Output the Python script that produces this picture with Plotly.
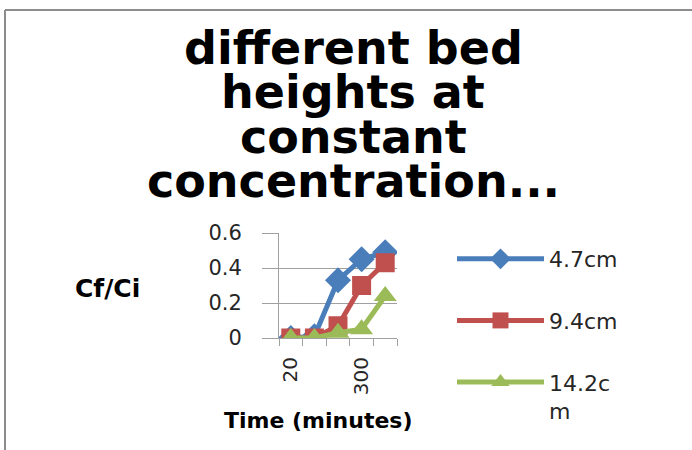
import plotly.graph_objects as go

# Sampling times (minutes) shown on the category axis
times = ["20", "100", "200", "300", "400"]

# Cf/Ci breakthrough ratios for each bed height
bed_4_7 = [0.0, 0.01, 0.33, 0.45, 0.49]
bed_9_4 = [0.0, 0.0, 0.07, 0.30, 0.43]
bed_14_2 = [0.0, 0.0, 0.03, 0.05, 0.24]

series_names = ["4.7cm", "9.4cm", "14.2c<br>m"]
series_colors = ["#4A7EBB", "#C0504D", "#9BBB59"]
series_symbols = ["diamond", "square", "triangle-up"]
series_sizes = [20, 19, 20]

title_lines = ["different bed", "heights at", "constant", "concentration..."]

W, H = 692, 450
PL, PR, PT, PB = 279, 397, 233, 338  # plot area edges in pixels
FONT = "DejaVu Sans"


def px(x):
    # pixel column -> paper fraction (paper spans the plot area)
    return (x - PL) / (PR - PL)


def py(y):
    # pixel row -> paper fraction
    return (PB - y) / (PB - PT)


fig = go.Figure()
for i, vals in enumerate([bed_4_7, bed_9_4, bed_14_2]):
    fig.add_trace(go.Scatter(
        x=times, y=vals, name=series_names[i],
        mode="lines+markers",
        line=dict(color=series_colors[i], width=5),
        marker=dict(symbol=series_symbols[i], size=series_sizes[i],
                    color=series_colors[i]),
        legendgroup=f"g{i}",
    ))

annotations = []
title_centers = [48, 92, 137, 181]
for line, yc in zip(title_lines, title_centers):
    annotations.append(dict(
        text=line, x=px(353), y=py(yc), xref="paper", yref="paper",
        xanchor="center", yanchor="middle", showarrow=False,
        font=dict(family=FONT, size=46, color="#000000", weight="bold"),
    ))
annotations.append(dict(
    text="Cf/Ci", x=px(107), y=py(288), xref="paper", yref="paper",
    xanchor="center", yanchor="middle", showarrow=False,
    font=dict(family=FONT, size=25, color="#000000", weight="bold"),
))
annotations.append(dict(
    text="Time (minutes)", x=px(318), y=py(420), xref="paper", yref="paper",
    xanchor="center", yanchor="middle", showarrow=False,
    font=dict(family=FONT, size=22, color="#000000", weight="bold"),
))

fig.update_layout(
    width=W, height=H, autosize=False,
    margin=dict(l=PL, r=W - PR, t=PT, b=H - PB),
    paper_bgcolor="white", plot_bgcolor="white",
    annotations=annotations,
    showlegend=True,
    legend=dict(
        x=px(452), y=py(238), xanchor="left", yanchor="top",
        font=dict(family=FONT, size=22, color="#262626"),
        itemwidth=87, tracegroupgap=30, valign="top",
        bgcolor="rgba(0,0,0,0)", maxheight=420,
    ),
    shapes=[
        dict(type="line", xref="paper", yref="paper",
             x0=px(5), y0=py(10), x1=px(W), y1=py(10),
             line=dict(color="#8C8C8C", width=2)),
        dict(type="line", xref="paper", yref="paper",
             x0=px(5), y0=py(10), x1=px(5), y1=py(H),
             line=dict(color="#8C8C8C", width=2)),
    ],
)

fig.update_xaxes(
    type="category", range=[-0.5, len(times) - 0.5],
    tickson="boundaries", ticks="outside", ticklen=7, tickcolor="#A0A0A0",
    showline=True, linecolor="#A0A0A0", linewidth=1,
    showgrid=False, zeroline=False,
    tickmode="array", tickvals=times,
    ticktext=[t if i % 3 == 0 else "" for i, t in enumerate(times)],
    tickangle=-90, ticklabelstandoff=10,
    tickfont=dict(family=FONT, size=20, color="#262626"),
)
fig.update_yaxes(
    range=[0, 0.6], dtick=0.2, tick0=0,
    ticks="outside", ticklen=16, tickcolor="#A0A0A0",
    showline=True, linecolor="#A0A0A0", linewidth=1,
    showgrid=True, gridcolor="#A0A0A0", gridwidth=1, zeroline=False,
    ticklabelstandoff=16,
    tickfont=dict(family=FONT, size=21, color="#262626"),
)

fig.write_html("out.html")
